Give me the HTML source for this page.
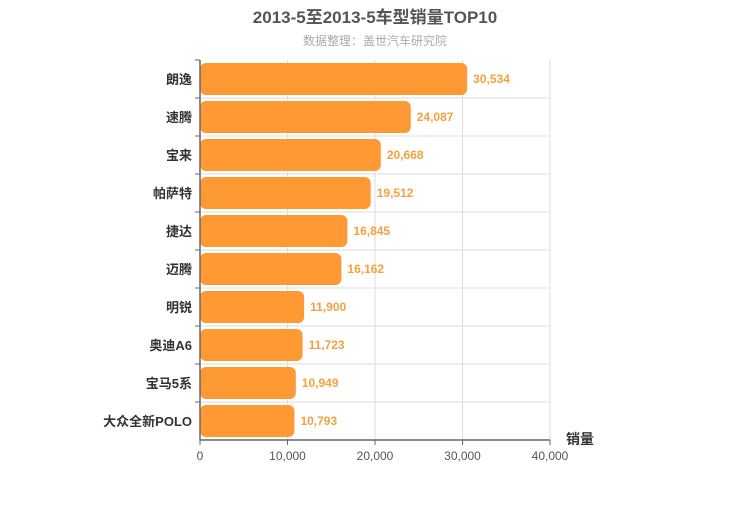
<!DOCTYPE html>
<html><head><meta charset="utf-8"><style>
body{margin:0;background:#fff;}
svg text{font-family:"Liberation Sans","Noto Sans CJK SC",sans-serif;}
</style></head><body>
<svg id="c" width="750" height="500">
<text x="375" y="23" text-anchor="middle" font-size="17" font-weight="bold" fill="#555">2013-5至2013-5车型销量TOP10</text>
<text x="375" y="45" text-anchor="middle" font-size="12" fill="#aaa">数据整理：盖世汽车研究院</text>
<text x="580" y="444" text-anchor="middle" font-size="14" font-weight="bold" fill="#333">销量</text>
</svg>
<script>
const categories=["朗逸","速腾","宝来","帕萨特","捷达","迈腾","明锐","奥迪A6","宝马5系","大众全新POLO"];
const values=[30534,24087,20668,19512,16845,16162,11900,11723,10949,10793];
const ticks=[0,10000,20000,30000,40000];
const svg=document.getElementById('c');
const NS='http://www.w3.org/2000/svg';
const x0=200,x1=550,top0=60,bot=440,maxV=40000;
const xs=v=>x0+(v/maxV)*(x1-x0);
const rh=(bot-top0)/categories.length;
function mk(t,a){const e=document.createElementNS(NS,t);for(const k in a)e.setAttribute(k,a[k]);svg.appendChild(e);return e;}
ticks.forEach((t,i)=>{
 const g=mk('line',{x1:xs(t),x2:xs(t),y1:top0,y2:bot,stroke:'#ddd'});
 
 
 const tk=mk('line',{x1:xs(t),x2:xs(t),y1:bot,y2:bot+5,stroke:'#666'});
 
 
 const l=mk('text',{x:xs(t),y:bot+20,'text-anchor':'middle','font-size':12,fill:'#555'});
 l.textContent=t.toLocaleString('en-US');
 
 
});
categories.forEach((c,i)=>{
 const y=top0+i*rh;
 if(i>0){const g=mk('line',{x1:x0,x2:x1,y1:y,y2:y,stroke:'#ddd'});
 
 }
 const tk=mk('line',{x1:x0-5,x2:x0,y1:y,y2:y,stroke:'#666'});
 
 
 const b=mk('rect',{x:x0,y:y+3,width:xs(values[i])-x0,height:rh-6,rx:6,ry:6,fill:'#ff9933'});
 
 
 const v=mk('text',{x:xs(values[i])+6,y:y+rh/2+4,'font-size':12,'font-weight':'bold',fill:'#f5a040'});
 v.textContent=values[i].toLocaleString('en-US');
 
 
 const l=mk('text',{x:x0-8,y:y+rh/2+5,'text-anchor':'end','font-size':13,'font-weight':'bold',fill:'#333'});
 l.textContent=c;
 
 
});
const ay=mk('line',{x1:x0,x2:x0,y1:top0,y2:bot,stroke:'#666','stroke-width':1.5});


const ax=mk('line',{x1:x0,x2:x1,y1:bot,y2:bot,stroke:'#666','stroke-width':1.5});


</script>
</body></html>
